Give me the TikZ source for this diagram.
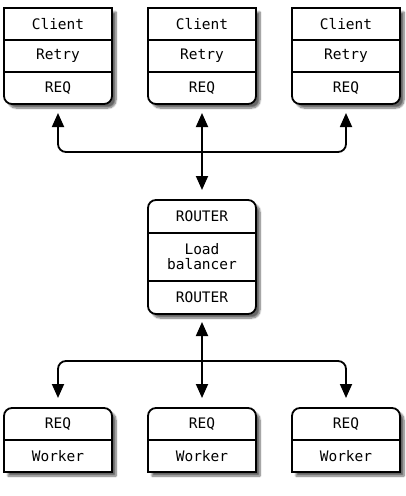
\documentclass[tikz,border=0pt]{standalone}
\usepackage{fontspec}
\newfontfamily\boxfont{DejaVu Sans Mono}
\usetikzlibrary{positioning}
\usetikzlibrary{backgrounds}
\usetikzlibrary{calc}
\usetikzlibrary{arrows.meta}
\usetikzlibrary{shadows.blur}
\tikzset{
  cell/.style={minimum width=108, minimum height=32, inner sep=0, outer sep=0,
               align=center, font=\boxfont\fontsize{14.5}{15}\selectfont},
  divider/.style={line width=1.4pt},
  box/.style={line width=1.8pt, fill=white,
              blur shadow={shadow xshift=4pt, shadow yshift=-4pt, shadow blur steps=8, shadow opacity=60}},
  link/.style={line width=1.8pt, rounded corners=8pt},
  link arrow/.style={link, -{Triangle[length=14pt,width=12pt]}},
  link both/.style={link, {Triangle[length=14pt,width=12pt]}-{Triangle[length=14pt,width=12pt]}}
}

\begin{document}
\begin{tikzpicture}[x=1pt, y=-1pt]
    \useasboundingbox (0,0) rectangle (405,496);

    % ------- clients -------
    \foreach \i [evaluate=\i as \x using 58+144*(\i-1)] in {1, 2, 3} {
        \node[cell] (client-\i-name) at (\x,24) {Client};
        \node[cell, below=0pt of client-\i-name] (client-\i-retry) {Retry};
        \node[cell, below=0pt of client-\i-retry] (client-\i-req) {REQ};

        \draw[divider] (client-\i-name.south west) -- (client-\i-name.south east);
        \draw[divider] (client-\i-retry.south west) -- (client-\i-retry.south east);

        \begin{scope}[on background layer]
            \path[box, draw] (client-\i-retry.west) |- (client-\i-name.north east) -- (client-\i-retry.east)
                [rounded corners=8pt] |- (client-\i-req.south) -| (client-\i-retry.west) -- cycle;
        \end{scope}
    }

    % ------- router -------
    \node[cell, minimum height=33] (router-front) at (202,216.5) {ROUTER};
    \node[cell, minimum height=48, below=0pt of router-front] (router-lb) {Load\\balancer};
    \node[cell, minimum height=33, below=0pt of router-lb] (router-back) {ROUTER};

    \draw[divider] (router-front.south west) -- (router-front.south east);
    \draw[divider] (router-lb.south west) -- (router-lb.south east);

    \begin{scope}[on background layer]
        \path[box, draw, rounded corners=8pt] (router-front.north west) rectangle (router-back.south east);
    \end{scope}

    % ------- workers -------
    \foreach \i [evaluate=\i as \x using 58+144*(\i-1)] in {1, 2, 3} {
        \node[cell] (worker-\i-req) at (\x,424) {REQ};
        \node[cell, below=0pt of worker-\i-req] (worker-\i-name) {Worker};

        \draw[divider] (worker-\i-req.south west) -- (worker-\i-req.south east);

        \begin{scope}[on background layer]
            \path[box, draw] (worker-\i-name.west) [rounded corners=8pt] |- (worker-\i-req.north) -| (worker-\i-name.east)
                [sharp corners] |- (worker-\i-name.south) -| (worker-\i-name.west) -- cycle;
        \end{scope}
    }

    % ------- connectors -------
    \coordinate (hub-top) at ($(client-2-req.south)!0.5!(router-front.north)$);
    \coordinate (hub-bottom) at ($(router-back.south)!0.5!(worker-2-req.north)$);

    \draw[link both, shorten <=9, shorten >=10] (client-2-req.south) -- (router-front.north);
    \foreach \i in {1, 3} {
        \draw[link arrow, shorten >=9] (hub-top) -| (client-\i-req.south);
    }

    \draw[link both, shorten <=8, shorten >=10] (router-back.south) -- (worker-2-req.north);
    \foreach \i in {1, 3} {
        \draw[link arrow, shorten >=10] (hub-bottom) -| (worker-\i-req.north);
    }
\end{tikzpicture}
\end{document}
